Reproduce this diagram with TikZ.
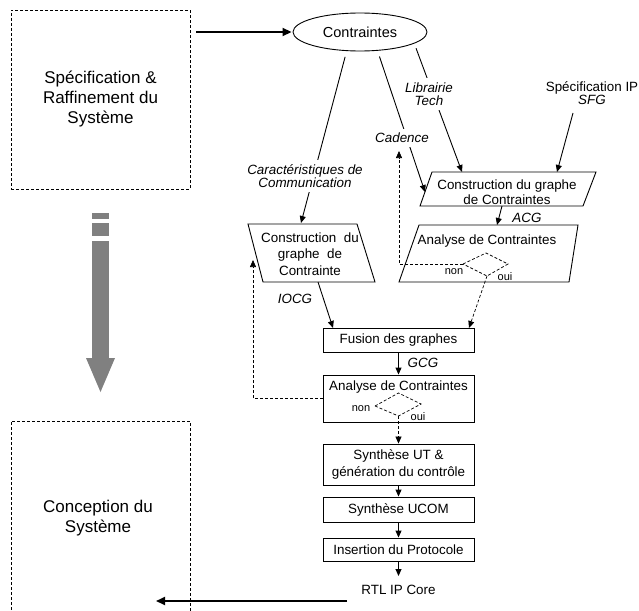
\documentclass[tikz,border=0pt]{standalone}
\usepackage{fontspec}
\setmainfont{Liberation Sans}
\usetikzlibrary{arrows.meta,shapes.geometric}
\definecolor{arrowgray}{RGB}{128,128,128}
\begin{document}
\begin{tikzpicture}[x=1pt,y=-1pt,
  line width=0.9pt,
  every node/.style={font=\fontsize{13.4}{15}\selectfont, inner sep=0pt, align=center},
  tip/.style={-{Triangle[length=7pt,width=6pt]}},
  bigtip/.style={-{Triangle[length=9pt,width=8pt]}, line width=1.8pt},
  dsh/.style={dash pattern=on 3pt off 2pt, line width=0.7pt},
  bigbox/.style={draw, dash pattern=on 3pt off 2pt, line width=0.8pt},
  rbox/.style={draw, minimum width=151pt},
  lbl/.style={font=\fontsize{13.4}{13.5}\selectfont\itshape, fill=white, inner sep=4pt},
  small/.style={font=\fontsize{11}{12}\selectfont},
  big/.style={font=\fontsize{17}{20}\selectfont},
]
\useasboundingbox (0,0) rectangle (639,610);

% left column
\node[bigbox, minimum width=179pt, minimum height=179pt, big] (spec) at (100.5,99.5) {Spécification \&\\Raffinement du\\Système};
\draw[bigbox] (11,640) -- (11,421) -- (190,421) -- (190,640);
\node[big] (conc) at (98,518) {Conception du\\Système};
\fill[arrowgray] (92,213) rectangle (109,219);
\fill[arrowgray] (92,223) rectangle (109,236);
\fill[arrowgray] (92,241) rectangle (109,358);
\fill[arrowgray] (86,358) -- (115,358) -- (100.5,392) -- cycle;

% ellipse
\node[ellipse, draw, minimum width=134pt, minimum height=38pt, font=\fontsize{14.5}{16}\selectfont] (e) at (360,32) {Contraintes};
\coordinate (t1) at (196,32);
\draw[bigtip, shorten >=1pt] (t1) -- (e.west);

% upper right parallelograms
\draw (432,172) -- (596,172) -- (583,206) -- (420,206) -- cycle;
\node (pc2) at (507,192) {Construction du graphe\\de Contraintes};
\draw (419,225) -- (578,225) -- (569,282) -- (399,282) -- cycle;
\node (pa2) at (487,241) {Analyse de Contraintes};

% left parallelogram
\draw (248,224) -- (357,224) -- (375,282) -- (263,282) -- cycle;
\node[font=\fontsize{13.4}{16.5}\selectfont] (pc1) at (310,254) {Construction\ \ du\\graphe\ \ de\\Contrainte};

% rectangles
\node[rbox, minimum height=24pt] (fu) at (398.5,340) {Fusion des graphes};
\node[rbox, minimum height=47pt] (an) at (398.5,398.5) {};
\node (antxt) at (398.5,387) {Analyse de Contraintes};
\node[rbox, minimum height=41pt, font=\fontsize{13.4}{17}\selectfont] (su) at (398.5,464.5) {Synthèse UT \&\\génération du contrôle};
\node[rbox, minimum height=25pt] (uc) at (398.5,509.5) {Synthèse UCOM};
\node[rbox, minimum height=23pt] (ins) at (398.5,549.5) {Insertion du Protocole};
\node[inner ysep=9pt, anchor=north] (rtl) at (398.5,576) {RTL IP Core};

% coordinates
\coordinate (c1in) at (301,223);
\coordinate (c2in) at (425,192);
\coordinate (c3in) at (462,172);
\coordinate (c4in) at (557,172);
\coordinate (s4) at (573,113);
\coordinate (acgout) at (502,206);
\coordinate (acgin) at (497,225);
\coordinate (iocgout) at (318,282);
\coordinate (fuin) at (333,328);
\coordinate (nu) at (399,151);
\coordinate (nl) at (253,260);
\coordinate (o1) at (469,328);
\coordinate (b1) at (347,601);
\coordinate (b2) at (156,601);

% lines from ellipse
\draw[tip, shorten <=6pt] (e.235) -- (c1in);
\draw[tip, shorten <=6pt] (e.313) -- (c2in);
\draw[tip, shorten <=5pt] (e.348) -- (c3in);
\draw[tip] (s4) -- (c4in);
\node[lbl] (lcar) at (305,176) {Caractéristiques de\\Communication};
\node[lbl] (lcad) at (402,138) {Cadence};
\node[lbl] (llib) at (429,94) {Librairie\\Tech};
\node[font=\fontsize{13.4}{13.5}\selectfont] (lsip) at (592,93) {Spécification IP\\\textit{SFG}};

% ACG
\draw[tip] (acgout) -- (acgin);
\node[font=\fontsize{13.4}{15}\selectfont\itshape] (lacg) at (527,218) {ACG};

% upper diamond
\draw[dsh] (463,264) coordinate (d1l) -- (486,253) -- (508,264) -- (487,276) coordinate (d1b) -- cycle;
\draw[dsh, tip] (d1l) -| (nu);
\draw[dsh, tip] (d1b) -- (o1);
\node[small] (n1) at (454,272) {non};
\node[small] (y1) at (505,277) {oui};

% IOCG
\draw[tip] (iocgout) -- (fuin);
\node[font=\fontsize{13.4}{15}\selectfont\itshape] (liocg) at (295,299) {IOCG};

% GCG
\draw[tip] (fu.south) -- (an.north);
\node[font=\fontsize{13.4}{15}\selectfont\itshape] (lgcg) at (423,363) {GCG};

% lower diamond
\draw[dsh] (375,406) coordinate (d2l) -- (398.5,393) -- (421,404) -- (398.5,416) coordinate (d2b) -- cycle;
\draw[dsh, tip] (d2b) -- (su.north);
\draw[dsh, tip] (an.west) -| (nl);
\node[small] (n2) at (361,409) {non};
\node[small] (y2) at (418,417) {oui};

% chain
\draw[tip] (su.south) -- (uc.north);
\draw[tip] (uc.south) -- (ins.north);
\draw[tip] (ins.south) -- (rtl.north);
\draw[bigtip] (b1) -- (b2);
\end{tikzpicture}
\end{document}
